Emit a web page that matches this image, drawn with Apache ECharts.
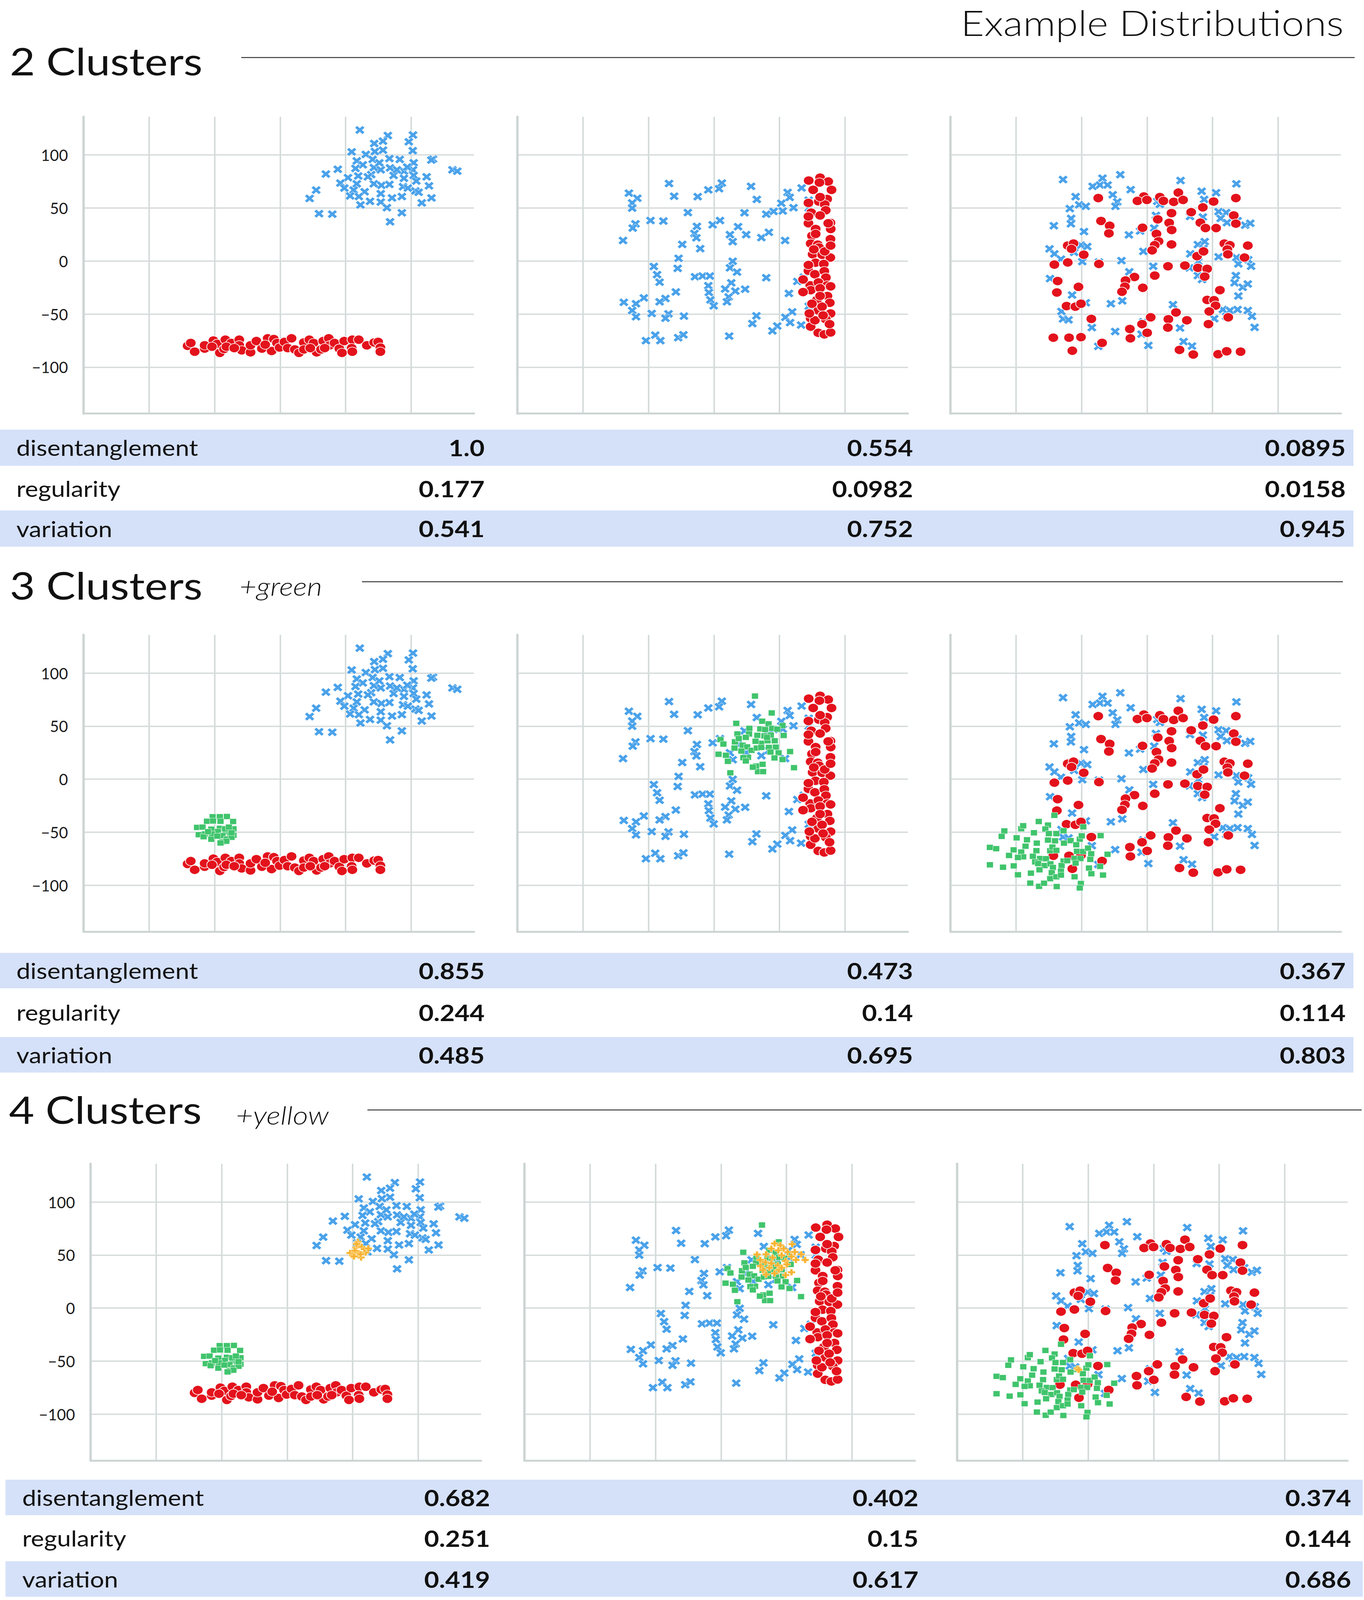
<!DOCTYPE html>
<html>
<head>
<meta charset="utf-8">
<title>Example Distributions</title>
<script src="https://cdn.jsdelivr.net/npm/echarts@6/dist/echarts.min.js"></script>
<style>
  html, body { margin: 0; padding: 0; background: #ffffff; overflow: hidden; }
  #chart { width: 3493px; height: 4728px; }
</style>
</head>
<body>
<div id="chart"></div>
<script>
;(function () {
  'use strict';

  // ---- data: column A (separated), B (column), C (mixed) ----
  var blueA = [[60.8,123.5],[82.2,118.3],[101.4,118.8],[98.2,112.4],[71.8,110.8],[78.5,113.0],[54.6,102.9],[65.4,100.5],[72.3,103.2],[78.5,104.5],[101.2,104.0],[58.5,94.4],[70.6,95.8],[83.4,96.6],[91.3,95.8],[101.9,92.6],[63.1,90.7],[71.5,88.1],[76.8,86.0],[83.9,87.8],[94.5,84.7],[101.4,86.0],[116.7,96.0],[115.4,95.2],[44.0,86.5],[34.9,82.0],[51.8,78.6],[59.6,80.2],[69.5,81.5],[86.6,80.7],[94.5,78.0],[101.9,80.7],[111.8,79.4],[131.5,86.0],[135.2,84.7],[46.0,73.5],[49.0,68.8],[58.5,72.8],[71.5,72.8],[77.3,71.4],[83.4,72.2],[103.9,75.4],[113.6,70.9],[103.2,66.1],[105.7,64.8],[93.8,70.1],[97.5,68.8],[56.1,66.9],[64.5,65.3],[53.4,61.4],[60.1,60.8],[76.8,63.5],[85.4,59.5],[92.9,60.8],[115.5,59.5],[108.1,54.8],[68.6,56.3],[61.3,52.9],[76.8,55.6],[81.5,50.3],[22.5,59.0],[27.5,66.9],[29.7,44.7],[39.8,44.2],[92.9,45.5],[83.9,37.0],[67.0,79.4],[89.1,86.0],[97.0,88.6],[75.7,92.6],[57.5,87.3]];
  var redA = [[-70.6,-79.9],[-68.2,-77.2],[-65.2,-85.4],[-57.6,-82.5],[-57.6,-79.4],[-50.9,-74.9],[-48.0,-78.0],[-46.0,-86.5],[-42.8,-82.8],[-41.8,-74.1],[-37.3,-77.2],[-31.2,-74.1],[-31.2,-79.4],[-29.3,-84.1],[-22.6,-86.0],[-22.6,-79.4],[-18.1,-75.4],[-13.9,-82.5],[-9.5,-72.8],[-6.5,-84.7],[-4.8,-73.5],[-2.4,-77.2],[-0.4,-81.5],[3.3,-76.2],[5.8,-82.0],[8.7,-72.8],[11.2,-83.3],[14.4,-86.5],[18.1,-76.7],[22.3,-74.1],[25.5,-77.2],[27.9,-86.0],[31.2,-83.3],[32.9,-75.4],[37.1,-72.8],[37.8,-79.4],[41.5,-77.2],[45.2,-82.5],[47.2,-86.5],[48.9,-75.4],[55.1,-74.1],[54.6,-82.0],[55.1,-85.4],[60.0,-74.1],[66.2,-79.4],[71.8,-76.7],[74.8,-76.2],[76.5,-81.5],[76.5,-85.4],[18.1,-83.3],[23.0,-82.0],[34.0,-82.0],[-11.4,-78.8],[-41.0,-80.7],[-52.0,-80.7],[-35.0,-82.0]];
  var greenA = [[-51.5,-35.4],[-46.0,-35.4],[-40.6,-35.2],[-55.8,-39.7],[-51.2,-39.4],[-45.5,-39.7],[-35.9,-39.9],[-63.4,-45.5],[-59.2,-45.2],[-52.5,-47.1],[-46.0,-46.3],[-47.5,-49.3],[-35.6,-46.8],[-41.6,-49.5],[-62.1,-52.3],[-57.4,-51.6],[-52.0,-51.6],[-44.0,-53.2],[-38.1,-51.6],[-35.6,-52.9],[-52.5,-56.6],[-40.6,-56.4],[-44.0,-59.0],[-48.0,-53.7],[-37.1,-54.8],[-58.4,-54.2],[-55.0,-49.5],[-42.0,-46.8],[-39.1,-45.2],[-37.1,-50.5],[-41.1,-58.5],[-45.5,-60.1]];
  var yellowA = [[54.0,62.5],[55.0,59.3],[52.5,57.2],[56.9,57.7],[54.5,51.9],[59.9,52.4],[48.0,51.9],[51.5,54.0],[56.4,47.7],[58.9,55.6],[50.0,49.8],[61.9,56.2],[53.0,60.4],[56.0,50.8],[51.0,48.7]];

  var blueB = [[-34.3,73.1],[-64.9,64.0],[-58.5,59.2],[-62.4,54.8],[-62.4,49.9],[-30.4,61.1],[-12.4,60.7],[-4.3,67.1],[6.0,73.5],[3.9,68.2],[28.3,70.4],[32.7,58.1],[56.2,64.7],[57.8,60.0],[66.9,68.9],[72.3,57.4],[72.3,49.9],[60.7,50.3],[51.4,54.5],[52.5,47.2],[45.5,46.8],[39.9,44.2],[23.3,45.5],[-19.9,45.7],[-48.4,38.2],[-38.6,37.7],[-59.9,35.1],[-62.0,31.1],[-69.4,19.4],[-13.0,32.7],[-14.9,26.0],[-13.4,21.9],[-1.0,34.2],[4.6,38.2],[18.4,32.4],[12.2,24.9],[14.3,18.3],[24.6,24.9],[36.2,22.1],[41.9,27.1],[54.3,19.4],[-24.2,15.7],[-10.5,11.7],[-27.0,2.6],[-27.7,-6.9],[-45.9,-5.1],[-43.4,-12.8],[-41.5,-19.9],[-14.5,-14.8],[-8.7,-14.1],[-3.1,-14.1],[14.3,-0.2],[12.2,-6.4],[17.6,-10.4],[13.2,-20.5],[-4.3,-23.2],[-3.9,-29.6],[-2.7,-36.6],[-0.2,-42.2],[8.5,-26.3],[16.3,-28.3],[23.8,-26.5],[11.2,-33.8],[9.9,-38.4],[39.9,-15.7],[63.6,-19.2],[68.6,-15.2],[57.2,-30.5],[72.3,-42.6],[-29.1,-29.1],[-37.0,-35.3],[-41.5,-38.4],[-53.5,-34.7],[-68.8,-38.9],[-59.5,-40.2],[-62.4,-46.6],[-59.5,-52.5],[-47.5,-49.4],[-34.7,-49.7],[-37.0,-53.9],[-22.9,-51.9],[32.4,-51.6],[29.3,-58.9],[59.7,-47.9],[54.5,-53.0],[58.1,-58.0],[66.5,-60.3],[48.3,-61.2],[44.6,-65.8],[-51.9,-75.0],[-44.8,-69.8],[-40.9,-75.0],[-27.3,-72.2],[-23.3,-69.5],[11.6,-70.7]];
  var redB = [[72.3,75.9],[81.0,78.6],[87.2,75.0],[80.5,74.0],[75.7,67.1],[89.7,67.1],[86.4,58.5],[80.0,56.1],[84.5,53.4],[85.3,47.9],[74.2,45.7],[81.0,43.0],[72.1,35.6],[88.9,36.0],[89.1,30.2],[77.6,30.2],[74.8,23.8],[88.9,20.7],[73.8,16.5],[79.2,15.5],[80.2,12.8],[75.3,6.4],[82.6,5.9],[88.8,3.3],[77.5,-1.5],[83.8,-2.7],[72.1,-9.1],[77.0,-12.4],[84.2,-9.5],[85.4,-15.5],[73.5,-22.9],[79.7,-20.1],[86.4,-22.9],[73.9,-27.4],[81.0,-25.6],[86.6,-32.9],[78.6,-36.6],[88.4,-39.3],[79.6,-46.6],[89.0,-49.4],[73.8,-53.9],[85.3,-54.8],[73.8,-61.8],[79.6,-67.6],[84.2,-69.1],[89.0,-67.3],[88.2,-59.4],[77.0,-55.8],[68.0,-29.2],[68.0,-17.4],[82.5,-43.0],[72.1,42.0],[87.2,35.6],[81.0,60.3],[76.2,11.0],[84.5,9.1],[72.1,-3.7],[81.0,-32.9],[74.8,-40.2],[83.3,-51.2],[72.1,54.8],[89.0,14.6],[77.6,25.6],[72.8,-49.4],[89.0,-23.8]];
  var greenB = [[31.3,78.3],[44.1,62.4],[17.0,52.6],[36.8,54.6],[41.7,52.1],[52.3,50.5],[27.0,47.9],[35.3,47.4],[39.0,46.8],[44.4,47.9],[48.3,47.1],[17.9,42.6],[26.8,42.6],[33.1,41.3],[38.5,40.8],[43.4,41.5],[53.2,41.2],[5.0,37.3],[7.2,33.1],[16.0,35.2],[18.9,38.3],[24.3,39.4],[36.1,33.8],[40.9,36.2],[46.4,36.2],[15.7,29.3],[21.9,32.0],[25.3,30.4],[28.7,27.2],[32.7,29.3],[36.1,29.9],[41.9,29.9],[47.2,30.2],[20.9,26.5],[3.5,23.5],[9.1,22.5],[10.6,16.8],[26.0,20.6],[22.4,20.3],[43.1,25.6],[49.3,24.8],[58.1,26.0],[46.2,20.0],[52.3,18.5],[32.2,12.4],[37.1,14.0],[33.6,7.1],[37.5,7.1],[61.1,10.8],[12.5,6.0],[29.7,11.3],[24.3,17.2],[40.5,39.4],[31.7,35.7]];
  var yellowB = [[40.9,60.8],[45.3,59.2],[54.3,60.3],[38.4,56.0],[43.8,54.5],[50.8,52.9],[27.5,50.5],[34.4,50.7],[39.4,47.6],[46.3,49.7],[53.8,48.6],[61.2,50.7],[64.2,45.4],[57.2,45.4],[49.3,44.4],[33.9,43.3],[30.2,39.6],[36.9,38.0],[43.4,40.1],[50.3,41.2],[44.0,35.9],[53.8,33.8],[34.4,31.7],[49.3,31.1],[40.9,32.7],[30.0,45.4],[47.8,56.0],[56.3,52.9],[38.4,42.3],[46.3,38.0],[32.0,35.9]];

  var blueC = [[-64.1,76.8],[-34.0,78.1],[-20.4,81.4],[-41.5,70.4],[-35.9,71.7],[-30.1,71.7],[-12.5,67.3],[25.6,75.9],[68.2,72.8],[-54.5,60.7],[-51.8,53.0],[-46.7,51.6],[-58.9,49.4],[-26.2,62.5],[-22.7,55.8],[-24.1,51.6],[7.8,56.3],[9.8,53.4],[41.7,65.8],[52.7,64.4],[43.6,58.1],[54.6,46.6],[60.4,45.7],[56.2,40.2],[61.0,36.2],[69.1,38.0],[74.9,33.8],[78.8,35.6],[32.8,42.0],[42.6,41.5],[6.8,43.0],[5.5,31.1],[-5.3,28.3],[-13.8,24.7],[-48.1,27.8],[-57.9,40.2],[-58.1,35.1],[-71.1,33.3],[-74.4,11.5],[-70.7,6.8],[-65.7,1.8],[-55.6,8.2],[-50.4,15.0],[-45.6,13.7],[-49.4,-0.5],[-36.7,-0.9],[-19.5,0.4],[-2.8,9.1],[4.7,-4.9],[-13.5,-10.1],[38.8,15.5],[44.0,18.3],[43.1,11.9],[33.0,6.8],[39.1,-0.5],[32.4,-6.4],[38.8,-13.7],[42.0,-17.4],[54.6,4.0],[68.2,3.3],[69.7,-2.7],[77.2,1.3],[79.4,-4.9],[67.8,-13.7],[66.8,-20.5],[73.0,-24.7],[76.9,-21.6],[69.7,-32.9],[-74.0,-16.5],[-57.2,-32.0],[-46.7,-39.3],[-65.3,-47.5],[-64.1,-54.5],[-59.9,-55.4],[-42.1,-62.7],[-27.6,-40.2],[-18.9,-37.5],[-24.3,-66.4],[-2.8,-57.2],[-4.2,-68.9],[1.0,-79.5],[-37.2,-80.4],[19.8,-41.1],[30.6,-55.4],[25.2,-63.1],[27.9,-75.9],[34.3,-80.1],[51.3,-54.3],[57.9,-45.7],[63.3,-46.6],[69.1,-45.7],[76.9,-46.6],[80.1,-52.1],[60.4,-52.1],[82.1,-62.5]];
  var redC = [[-37.2,59.4],[-2.4,60.9],[-7.3,56.7],[-0.1,57.6],[9.8,60.3],[12.5,56.7],[20.4,55.8],[23.9,64.5],[27.5,57.6],[50.8,56.1],[42.6,50.6],[67.8,59.4],[18.7,45.2],[33.7,46.1],[66.2,43.0],[40.7,36.2],[44.6,31.1],[52.7,31.1],[67.8,35.3],[16.9,36.0],[18.8,29.3],[8.2,39.3],[-35.1,37.8],[-28.5,33.3],[-29.1,26.1],[-3.4,31.4],[7.2,25.6],[8.8,18.6],[5.9,15.0],[3.9,10.1],[18.7,15.7],[-60.5,14.6],[-56.1,16.5],[-57.6,11.5],[-48.3,6.0],[-70.7,-3.3],[-60.5,-1.3],[-36.7,-2.7],[16.0,-4.9],[28.9,-4.2],[38.2,4.6],[43.1,9.1],[38.8,-6.4],[45.9,-7.3],[44.0,-14.6],[59.0,16.5],[63.2,15.0],[61.3,11.0],[61.7,6.4],[76.9,14.6],[74.4,3.3],[5.9,-13.7],[-9.6,-15.0],[-16.4,-18.3],[-16.9,-24.1],[-19.1,-28.9],[-3.2,-25.2],[-52.3,-24.3],[-68.2,-18.8],[-68.8,-29.6],[55.6,-27.4],[45.9,-36.6],[51.1,-36.9],[52.3,-42.0],[47.5,-47.5],[46.9,-59.4],[-61.4,-42.4],[-54.7,-43.0],[-50.4,-40.2],[-42.5,-54.5],[-71.5,-72.2],[-59.5,-72.2],[-50.4,-71.7],[-57.0,-84.5],[-34.3,-77.1],[-13.1,-64.0],[-12.7,-72.8],[-3.8,-59.4],[0.1,-67.6],[2.8,-53.0],[16.3,-54.8],[15.9,-62.7],[22.1,-48.4],[30.4,-55.8],[24.8,-83.7],[35.3,-88.1],[54.2,-87.8],[60.8,-85.0],[71.4,-85.4],[62.0,-53.0]];
  var greenC = [[-70.7,-34.1],[-82.6,-39.9],[-75.6,-43.3],[-96.0,-46.7],[-94.5,-43.9],[-77.6,-47.0],[-108.9,-48.8],[-110.9,-53.9],[-99.5,-55.3],[-91.6,-57.1],[-86.3,-50.5],[-74.9,-51.3],[-69.2,-51.3],[-63.7,-48.6],[-48.6,-44.9],[-75.6,-57.4],[-70.2,-58.1],[-63.4,-60.3],[-58.3,-57.9],[-51.3,-56.6],[-54.0,-61.8],[-35.4,-53.2],[-49.8,-53.4],[-119.9,-64.3],[-115.1,-65.5],[-101.8,-66.6],[-92.7,-63.2],[-84.1,-60.3],[-96.0,-68.7],[-94.5,-73.2],[-105.3,-71.9],[-98.5,-73.8],[-84.4,-67.4],[-73.9,-67.4],[-72.2,-64.0],[-69.2,-67.1],[-87.1,-72.7],[-81.6,-74.8],[-77.1,-75.0],[-85.4,-78.0],[-83.1,-79.5],[-78.1,-81.4],[-73.7,-79.8],[-71.8,-83.2],[-63.7,-77.2],[-65.2,-81.4],[-55.3,-74.7],[-50.8,-74.8],[-54.5,-79.1],[-53.5,-68.0],[-48.8,-68.2],[-45.0,-65.0],[-42.6,-70.3],[-43.3,-75.6],[-30.1,-70.8],[-119.9,-80.7],[-109.9,-83.0],[-101.7,-81.7],[-98.5,-90.1],[-88.6,-88.6],[-82.1,-85.4],[-72.7,-88.1],[-73.9,-93.8],[-69.2,-92.0],[-65.7,-86.7],[-65.7,-90.4],[-55.3,-92.0],[-44.3,-83.8],[-42.5,-89.1],[-35.8,-82.2],[-33.6,-90.4],[-89.1,-98.0],[-82.4,-101.0],[-78.6,-98.1],[-68.9,-101.2],[-50.5,-98.3],[-51.3,-102.5],[-60.9,-76.8]];
  var yellowC = [[-57.7,-57.5],[-58.2,-57.0],[-57.2,-58.2]];

  // ---- text content ----
  var pageTitle = 'Example Distributions';
  var headings = ['2 Clusters', '3 Clusters', '4 Clusters'];
  var headingAdds = ['', '+green', '+yellow'];
  var metricNames = ['disentanglement', 'regularity', 'variation'];
  var disentanglement = [['1.0', '0.554', '0.0895'], ['0.855', '0.473', '0.367'], ['0.682', '0.402', '0.374']];
  var regularity = [['0.177', '0.0982', '0.0158'], ['0.244', '0.14', '0.114'], ['0.251', '0.15', '0.144']];
  var variation = [['0.541', '0.752', '0.945'], ['0.485', '0.695', '0.803'], ['0.419', '0.617', '0.686']];

  var columns = [
    { blue: blueA, red: redA, green: greenA, yellow: yellowA },
    { blue: blueB, red: redB, green: greenB, yellow: yellowB },
    { blue: blueC, red: redC, green: greenC, yellow: yellowC }
  ];
  var rowClusters = [['blue', 'red'], ['blue', 'red', 'green'], ['blue', 'red', 'green', 'yellow']];

  // ---- page scale: the layout is designed on a 3493 x 4728 page and
  // stretched to whatever viewport the browser really gives us ----
  var PAGE_W = 3493, PAGE_H = 4728;
  var vw = window.innerWidth || document.documentElement.clientWidth || PAGE_W;
  var vh = window.innerHeight || document.documentElement.clientHeight || PAGE_H;
  var SX = vw / PAGE_W, SY = vh / PAGE_H;
  if (!isFinite(SX) || SX <= 0) { SX = 1; }
  if (!isFinite(SY) || SY <= 0) { SY = 1; }
  function pxX(v) { return v * SX; }
  function pxY(v) { return v * SY; }

  // ---- look ----
  var FONT = 'Lato, "Noto Sans", "DejaVu Sans", sans-serif';
  var GRID_COLOR = '#d5dcdb';
  var AXIS_COLOR = '#cdd5d4';
  var BAND_COLOR = '#d5e1f9';
  var X_PATH = 'path://M2.3,0L5,2.7L7.7,0L10,2.3L7.3,5L10,7.7L7.7,10L5,7.3L2.3,10L0,7.7L2.7,5L0,2.3Z';
  var PLUS_PATH = 'path://M3.3,0H6.7V3.3H10V6.7H6.7V10H3.3V6.7H0V3.3H3.3Z';
  var MARKS = {
    blue:   { symbol: X_PATH,    size: 25, color: '#4aa2ea', border: '#ffffff', bw: 1 },
    red:    { symbol: 'circle',  size: 27, color: '#e3121c', border: '#ffffff', bw: 2 },
    green:  { symbol: 'rect',    size: 17, color: '#40c46c', border: '#ffffff', bw: 1 },
    yellow: { symbol: PLUS_PATH, size: 19, color: '#f8b332', border: '#fff2d0', bw: 1 }
  };

  var X_MIN = -150, X_MAX = 148;
  var Y_MIN = -143.7, Y_MAX = 136;

  var PANEL_W = 1000, PANEL_H = 877;
  var panelTops = [345, 1876, 3439];
  var panelLefts = [[214, 1325, 2434], [214, 1325, 2434], [232, 1343, 2451]];

  var headLayout = [
    { x: 25, y: 179, subX: 0, subY: 0, line: [618, 3469, 170] },
    { x: 25, y: 1728, subX: 613, subY: 1731, line: [927, 3439, 1719] },
    { x: 23, y: 3278, subX: 604, subY: 3294, line: [941, 3487, 3280] }
  ];
  var tableLayout = [
    { labelX: 42, valueX: [1241, 2338, 3446], band: [0, 3466], rows: [1323, 1444, 1562], bandH: 107 },
    { labelX: 42, valueX: [1241, 2338, 3446], band: [0, 3466], rows: [2868, 2992, 3117], bandH: 105 },
    { labelX: 57, valueX: [1255, 2352, 3460], band: [14, 3490], rows: [4425, 4545, 4666], bandH: 105 }
  ];

  function minusSign(value) {
    return String(value).replace('-', '\u2212');
  }

  function buildAxes(gi, col) {
    var xAxis = {
      gridIndex: gi, type: 'value', min: X_MIN, max: X_MAX, interval: 50,
      axisLine: { show: true, onZero: false, lineStyle: { color: AXIS_COLOR, width: pxY(6) } },
      axisTick: { show: false },
      axisLabel: { show: false },
      splitLine: { show: true, showMinLine: false, showMaxLine: false, lineStyle: { color: GRID_COLOR, width: pxX(4) } }
    };
    var yAxis = {
      gridIndex: gi, type: 'value', min: Y_MIN, max: Y_MAX, splitNumber: 5,
      axisLine: { show: true, onZero: false, lineStyle: { color: AXIS_COLOR, width: pxX(6) } },
      axisTick: { show: false },
      axisLabel: {
        show: col === 0, showMinLabel: false, showMaxLabel: false,
        margin: pxX(40), fontSize: pxY(46), fontFamily: FONT, color: '#1c1c1c',
        formatter: minusSign
      },
      splitLine: { show: true, showMinLine: false, showMaxLine: false, lineStyle: { color: GRID_COLOR, width: pxY(4) } }
    };
    return { x: xAxis, y: yAxis };
  }

  function buildSeries(gi, name, data) {
    var m = MARKS[name];
    return {
      type: 'scatter', name: name, xAxisIndex: gi, yAxisIndex: gi,
      data: data, symbol: m.symbol, symbolSize: [pxX(m.size), pxY(m.size)], silent: true,
      itemStyle: { color: m.color, opacity: 1, borderColor: m.border, borderWidth: pxY(m.bw) }
    };
  }

  function textEl(text, x, y, size, opts) {
    opts = opts || {};
    var align = opts.align || 'left';
    return {
      type: 'text', x: pxX(x), y: pxY(y), z: 10, silent: true,
      scaleX: SX / SY, scaleY: 1,
      style: {
        text: text, fill: opts.color || '#111111',
        fontSize: pxY(size), fontFamily: FONT,
        fontWeight: opts.weight || 'normal', fontStyle: opts.style || 'normal',
        align: align, textAlign: align,
        verticalAlign: 'middle', textVerticalAlign: 'middle'
      }
    };
  }

  var grids = [], xAxes = [], yAxes = [], series = [], graphics = [];

  for (var r = 0; r < 3; r++) {
    for (var c = 0; c < 3; c++) {
      var gi = r * 3 + c;
      grids.push({
        left: pxX(panelLefts[r][c]), top: pxY(panelTops[r]),
        width: pxX(PANEL_W), height: pxY(PANEL_H), containLabel: false
      });
      var axes = buildAxes(gi, c);
      xAxes.push(axes.x);
      yAxes.push(axes.y);
      rowClusters[r].forEach(function (name) {
        series.push(buildSeries(gi, name, columns[c][name]));
      });
    }
  }

  // page title
  graphics.push(textEl(pageTitle, 3441, 66, 104, { align: 'right', weight: 300 }));

  // headings
  headLayout.forEach(function (h, i) {
    graphics.push(textEl(headings[i], h.x, h.y, 112, {}));
    if (headingAdds[i]) {
      graphics.push(textEl(headingAdds[i], h.subX, h.subY, 76, { weight: 300, style: 'italic' }));
    }
    graphics.push({
      type: 'line', z: 5, silent: true,
      shape: { x1: pxX(h.line[0]), y1: pxY(h.line[2]), x2: pxX(h.line[1]), y2: pxY(h.line[2]) },
      style: { stroke: '#3a3a3a', lineWidth: pxY(3) }
    });
  });

  // metric tables
  var metricValues = [disentanglement, regularity, variation];
  tableLayout.forEach(function (t, i) {
    [0, 2].forEach(function (k) {
      graphics.push({
        type: 'rect', z: 1, silent: true,
        shape: {
          x: pxX(t.band[0]), y: pxY(t.rows[k] - t.bandH / 2),
          width: pxX(t.band[1] - t.band[0]), height: pxY(t.bandH)
        },
        style: { fill: BAND_COLOR }
      });
    });
    metricNames.forEach(function (name, k) {
      graphics.push(textEl(name, t.labelX, t.rows[k], 64, {}));
      metricValues[k][i].forEach(function (val, c) {
        graphics.push(textEl(val, t.valueX[c], t.rows[k], 66, { align: 'right', weight: 'bold' }));
      });
    });
  });

  var el = document.getElementById('chart');
  el.style.width = Math.round(PAGE_W * SX) + 'px';
  el.style.height = Math.round(PAGE_H * SY) + 'px';

  var chart = echarts.init(el, null, { renderer: 'svg' });
  chart.setOption({
    backgroundColor: '#ffffff',
    animation: false,
    grid: grids,
    xAxis: xAxes,
    yAxis: yAxes,
    series: series,
    graphic: { elements: graphics }
  });
})();
</script>
</body>
</html>
